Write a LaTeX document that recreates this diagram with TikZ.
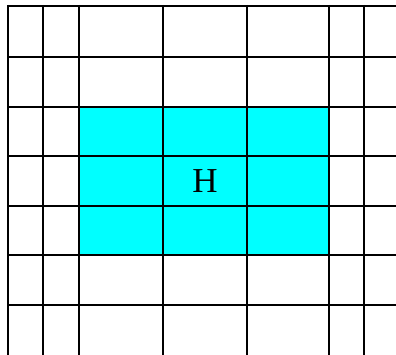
\documentclass[tikz,border=0pt]{standalone}
\usepackage{fontspec}
\setmainfont{Liberation Serif}
\definecolor{aqua}{RGB}{0,255,255}
\begin{document}
\begin{tikzpicture}[x=1pt,y=-1pt,
  gridline/.style={line width=2pt,black},
  cell/.style={fill=aqua}]
\useasboundingbox (0,0) rectangle (396,355);
\fill[white] (0,0) rectangle (396,355);
\fill[cell] (79,107) rectangle (329,255);
\foreach \x in {8,43,79,163,247,329,364}
  \draw[gridline] (\x,5) -- (\x,356);
\foreach \y in {6,57,107,156,206,255,305,356}
  \draw[gridline] (7,\y) -- (397,\y);
\node[font=\fontsize{35}{40}\selectfont,inner sep=0pt] (h) at (205,181) {H};
\end{tikzpicture}
\end{document}
